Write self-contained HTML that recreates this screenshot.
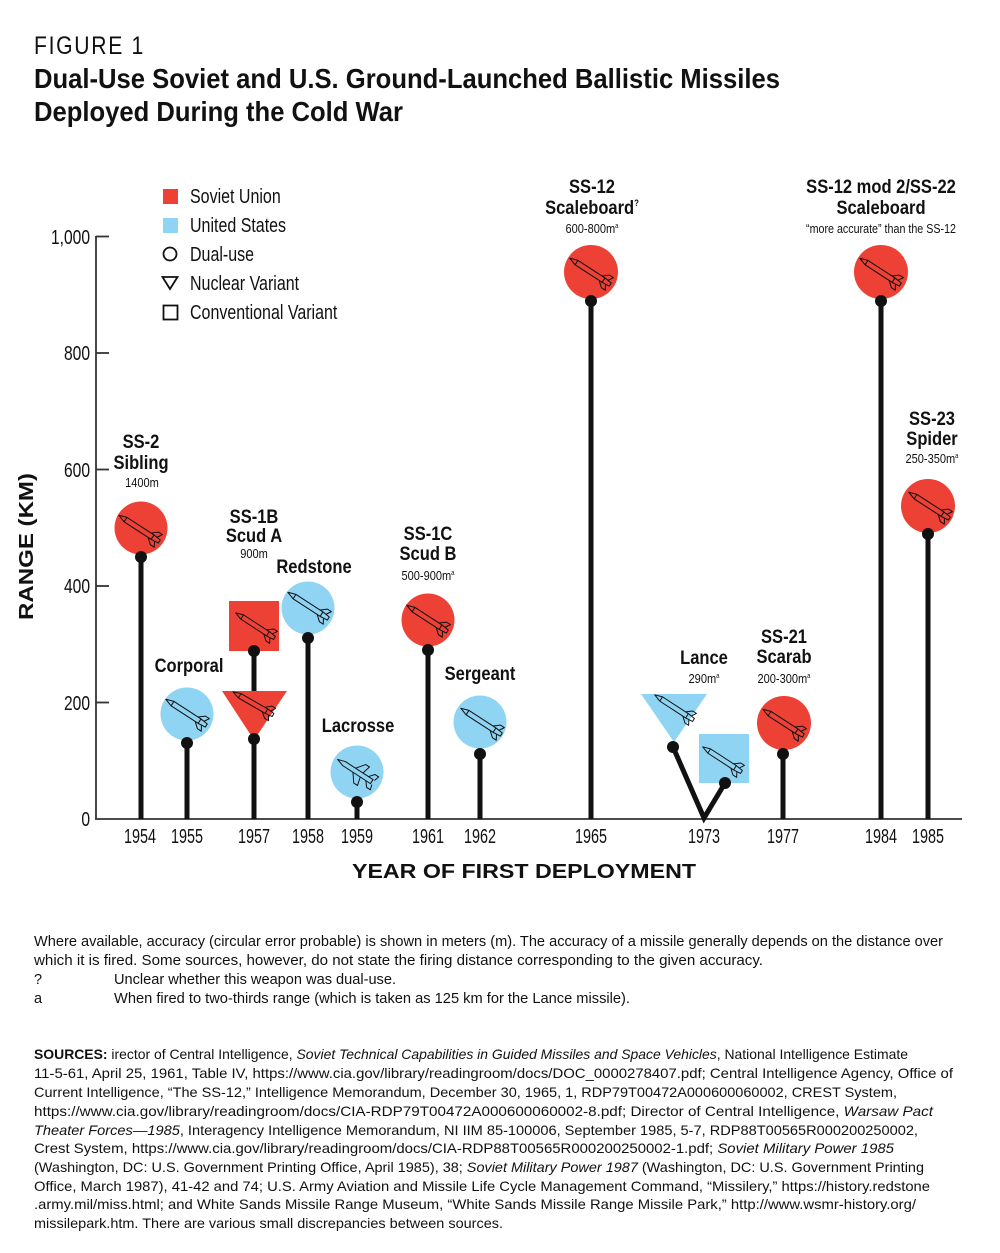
<!DOCTYPE html>
<html>
<head>
<meta charset="utf-8">
<style>
  html,body{margin:0;padding:0;background:#fff;}
  svg{display:block;}
  text{font-family:"Liberation Sans",sans-serif;fill:#111;}
</style>
</head>
<body>
<svg width="1000" height="1253" viewBox="0 0 1000 1253" xmlns="http://www.w3.org/2000/svg">
  <defs>
    <g id="rk" fill="none" stroke="#111" stroke-width="0.9" stroke-linejoin="round">
      <path d="M-22,0 L-15,-2.3 L13,-2.3 L13,2.3 L-15,2.3 Z"/>
      <path d="M-15,-2.3 L-15,2.3"/>
      <path d="M10,-2.3 L15,-6.5 L19,-6.5 L16.5,-2.3 M10,2.3 L15,6.5 L19,6.5 L16.5,2.3"/>
      <path d="M13,-2.3 L20,-1.6 L20,1.6 L13,2.3"/>
    </g>
    <g id="lc" fill="none" stroke="#111" stroke-width="0.9" stroke-linejoin="round">
      <path d="M-21,0 L-14,-2.2 L16,-2.2 L16,2.2 L-14,2.2 Z"/>
      <path d="M-3,-2.2 L3,-10 L7,-10 L5,-2.2 M-3,2.2 L3,10 L7,10 L5,2.2"/>
      <path d="M11,-2.2 L15,-7 L19,-7 L17.5,-2.2 M11,2.2 L15,7 L19,7 L17.5,2.2"/>
    </g>
  </defs>

  <!-- Title -->
  <text x="34" y="54" font-size="25" font-weight="300" textLength="111" lengthAdjust="spacingAndGlyphs" letter-spacing="2">FIGURE 1</text>
  <text x="34" y="88" font-size="28" font-weight="bold" textLength="746" lengthAdjust="spacingAndGlyphs">Dual-Use Soviet and U.S. Ground-Launched Ballistic Missiles</text>
  <text x="34" y="121" font-size="28" font-weight="bold" textLength="369" lengthAdjust="spacingAndGlyphs">Deployed During the Cold War</text>

  <!-- Legend -->
  <rect x="163" y="189" width="15" height="15" fill="#ee4136"/>
  <rect x="163" y="218" width="15" height="15" fill="#8fd4f2"/>
  <circle cx="170" cy="254" r="6.5" fill="none" stroke="#111" stroke-width="1.8"/>
  <polygon points="162.5,277 177.5,277 170,289" fill="none" stroke="#111" stroke-width="1.8" stroke-linejoin="miter"/>
  <rect x="163.5" y="305.5" width="14" height="14" fill="none" stroke="#111" stroke-width="1.8"/>
  <g font-size="20">
    <text transform="translate(190,203) scale(0.8,1)">Soviet Union</text>
    <text transform="translate(190,232) scale(0.8,1)">United States</text>
    <text transform="translate(190,261) scale(0.8,1)">Dual-use</text>
    <text transform="translate(190,290) scale(0.8,1)">Nuclear Variant</text>
    <text transform="translate(190,319) scale(0.8,1)">Conventional Variant</text>
  </g>

  <!-- Axes -->
  <g stroke="#333" stroke-width="1.8" fill="none">
    <line x1="96" y1="236" x2="96" y2="819"/>
    <line x1="95" y1="819" x2="962" y2="819"/>
    <line x1="96" y1="236.5" x2="109" y2="236.5"/>
    <line x1="96" y1="353" x2="109" y2="353"/>
    <line x1="96" y1="469.5" x2="109" y2="469.5"/>
    <line x1="96" y1="586" x2="109" y2="586"/>
    <line x1="96" y1="702.5" x2="109" y2="702.5"/>
  </g>
  <g font-size="20" text-anchor="end">
    <text transform="translate(90,244) scale(0.78,1)">1,000</text>
    <text transform="translate(90,360) scale(0.78,1)">800</text>
    <text transform="translate(90,477) scale(0.78,1)">600</text>
    <text transform="translate(90,593) scale(0.78,1)">400</text>
    <text transform="translate(90,710) scale(0.78,1)">200</text>
    <text transform="translate(90,826) scale(0.78,1)">0</text>
  </g>
  <g font-size="20" text-anchor="middle">
    <text transform="translate(140,843) scale(0.72,1)">1954</text>
    <text transform="translate(187,843) scale(0.72,1)">1955</text>
    <text transform="translate(254,843) scale(0.72,1)">1957</text>
    <text transform="translate(308,843) scale(0.72,1)">1958</text>
    <text transform="translate(357,843) scale(0.72,1)">1959</text>
    <text transform="translate(428,843) scale(0.72,1)">1961</text>
    <text transform="translate(480,843) scale(0.72,1)">1962</text>
    <text transform="translate(591,843) scale(0.72,1)">1965</text>
    <text transform="translate(704,843) scale(0.72,1)">1973</text>
    <text transform="translate(783,843) scale(0.72,1)">1977</text>
    <text transform="translate(881,843) scale(0.72,1)">1984</text>
    <text transform="translate(928,843) scale(0.72,1)">1985</text>
  </g>
  <text x="352" y="878" font-size="20" font-weight="bold" textLength="344" lengthAdjust="spacingAndGlyphs">YEAR OF FIRST DEPLOYMENT</text>
  <text transform="translate(33,620) rotate(-90)" font-size="20" font-weight="bold" textLength="147" lengthAdjust="spacingAndGlyphs">RANGE (KM)</text>

  <!-- Shapes -->
  <g>
    <circle cx="141" cy="528" r="26.5" fill="#ee4136"/>
    <circle cx="187" cy="714" r="26.5" fill="#8fd4f2"/>
    <rect x="229" y="601" width="50" height="50" fill="#ee4136"/>
    <polygon points="222,691 287,691 254,740" fill="#ee4136"/>
    <circle cx="308" cy="608" r="26.5" fill="#8fd4f2"/>
    <circle cx="357" cy="772" r="26.5" fill="#8fd4f2"/>
    <circle cx="428" cy="620" r="26.5" fill="#ee4136"/>
    <circle cx="480" cy="722" r="26.5" fill="#8fd4f2"/>
    <circle cx="591" cy="272" r="27" fill="#ee4136"/>
    <polygon points="641,694 707,694 674,742" fill="#8fd4f2"/>
    <rect x="699" y="734" width="50" height="49" fill="#8fd4f2"/>
    <circle cx="784" cy="723" r="27" fill="#ee4136"/>
    <circle cx="881" cy="272" r="27" fill="#ee4136"/>
    <circle cx="928" cy="506" r="27" fill="#ee4136"/>
  </g>

  <!-- Rockets -->
  <use href="#rk" transform="translate(140,529) rotate(33) scale(1.15)"/>
  <use href="#rk" transform="translate(187,713) rotate(33) scale(1.15)"/>
  <use href="#rk" transform="translate(256,626) rotate(33) scale(1.1)"/>
  <use href="#rk" transform="translate(254,704) rotate(30) scale(1.1)"/>
  <use href="#rk" transform="translate(309,606) rotate(33) scale(1.15)"/>
  <use href="#lc" transform="translate(357,772) rotate(33) scale(1.1)"/>
  <use href="#rk" transform="translate(428,619) rotate(33) scale(1.15)"/>
  <use href="#rk" transform="translate(482,722) rotate(33) scale(1.15)"/>
  <use href="#rk" transform="translate(591,272) rotate(33) scale(1.15)"/>
  <use href="#rk" transform="translate(675,708) rotate(33) scale(1.1)"/>
  <use href="#rk" transform="translate(723,760) rotate(33) scale(1.1)"/>
  <use href="#rk" transform="translate(784,723) rotate(33) scale(1.15)"/>
  <use href="#rk" transform="translate(881,272) rotate(33) scale(1.15)"/>
  <use href="#rk" transform="translate(930,506) rotate(33) scale(1.15)"/>

  <!-- Stems -->
  <g stroke="#111" stroke-width="5" fill="none">
    <line x1="141" y1="557" x2="141" y2="819"/>
    <line x1="187" y1="743" x2="187" y2="819"/>
    <line x1="254" y1="651" x2="254" y2="691"/>
    <line x1="254" y1="739" x2="254" y2="819"/>
    <line x1="308" y1="638" x2="308" y2="819"/>
    <line x1="357" y1="802" x2="357" y2="819"/>
    <line x1="428" y1="650" x2="428" y2="819"/>
    <line x1="480" y1="754" x2="480" y2="819"/>
    <line x1="591" y1="301" x2="591" y2="819"/>
    <polyline points="673,747 704,818 725,783" stroke-linejoin="miter"/>
    <line x1="783" y1="754" x2="783" y2="819"/>
    <line x1="881" y1="301" x2="881" y2="819"/>
    <line x1="928" y1="534" x2="928" y2="819"/>
  </g>
  <g fill="#111">
    <circle cx="141" cy="557" r="6"/>
    <circle cx="187" cy="743" r="6"/>
    <circle cx="254" cy="651" r="6"/>
    <circle cx="254" cy="739" r="6"/>
    <circle cx="308" cy="638" r="6"/>
    <circle cx="357" cy="802" r="6"/>
    <circle cx="428" cy="650" r="6"/>
    <circle cx="480" cy="754" r="6"/>
    <circle cx="591" cy="301" r="6"/>
    <circle cx="673" cy="747" r="6"/>
    <circle cx="725" cy="783" r="6"/>
    <circle cx="783" cy="754" r="6"/>
    <circle cx="881" cy="301" r="6"/>
    <circle cx="928" cy="534" r="6"/>
  </g>

  <!-- Labels -->
  <g font-size="19" font-weight="bold" text-anchor="middle">
    <text transform="translate(141,448) scale(0.87,1)">SS-2</text>
    <text transform="translate(141,469) scale(0.87,1)">Sibling</text>
    <text transform="translate(189,672) scale(0.87,1)">Corporal</text>
    <text transform="translate(254,523) scale(0.87,1)">SS-1B</text>
    <text transform="translate(254,542) scale(0.87,1)">Scud A</text>
    <text transform="translate(314,573) scale(0.87,1)">Redstone</text>
    <text transform="translate(358,732) scale(0.87,1)">Lacrosse</text>
    <text transform="translate(428,540) scale(0.87,1)">SS-1C</text>
    <text transform="translate(428,560) scale(0.87,1)">Scud B</text>
    <text transform="translate(480,680) scale(0.87,1)">Sergeant</text>
    <text transform="translate(592,193) scale(0.87,1)">SS-12</text>
    <text transform="translate(592,214) scale(0.87,1)">Scaleboard<tspan font-size="9" dy="-8">?</tspan></text>
    <text transform="translate(881,193) scale(0.87,1)">SS-12 mod 2/SS-22</text>
    <text transform="translate(881,214) scale(0.87,1)">Scaleboard</text>
    <text transform="translate(932,425) scale(0.87,1)">SS-23</text>
    <text transform="translate(932,445) scale(0.87,1)">Spider</text>
    <text transform="translate(704,664) scale(0.87,1)">Lance</text>
    <text transform="translate(784,643) scale(0.87,1)">SS-21</text>
    <text transform="translate(784,663) scale(0.87,1)">Scarab</text>
  </g>
  <g font-size="13" text-anchor="middle">
    <text transform="translate(142,487) scale(0.85,1)">1400m</text>
    <text transform="translate(254,558) scale(0.85,1)">900m</text>
    <text transform="translate(428,580) scale(0.85,1)">500-900m<tspan font-size="7" dy="-5">a</tspan></text>
    <text transform="translate(592,233) scale(0.85,1)">600-800m<tspan font-size="7" dy="-5">a</tspan></text>
    <text x="806" y="233" text-anchor="start" textLength="150" lengthAdjust="spacingAndGlyphs">“more accurate” than the SS-12</text>
    <text transform="translate(932,463) scale(0.85,1)">250-350m<tspan font-size="7" dy="-5">a</tspan></text>
    <text transform="translate(704,683) scale(0.85,1)">290m<tspan font-size="7" dy="-5">a</tspan></text>
    <text transform="translate(784,683) scale(0.85,1)">200-300m<tspan font-size="7" dy="-5">a</tspan></text>
  </g>

  <!-- Footnotes -->
  <g font-size="14.5" fill="#1a1a1a">
    <text x="34" y="946" textLength="909" lengthAdjust="spacingAndGlyphs">Where available, accuracy (circular error probable) is shown in meters (m). The accuracy of a missile generally depends on the distance over</text>
    <text x="34" y="965" textLength="729" lengthAdjust="spacingAndGlyphs">which it is fired. Some sources, however, do not state the firing distance corresponding to the given accuracy.</text>
    <text x="34" y="984">?</text>
    <text x="114" y="984" textLength="282" lengthAdjust="spacingAndGlyphs">Unclear whether this weapon was dual-use.</text>
    <text x="34" y="1003">a</text>
    <text x="114" y="1003" textLength="516" lengthAdjust="spacingAndGlyphs">When fired to two-thirds range (which is taken as 125 km for the Lance missile).</text>
  </g>

  <!-- Sources -->
  <g font-size="14" fill="#1a1a1a">
    <text x="34" y="1059" textLength="874" lengthAdjust="spacingAndGlyphs"><tspan font-weight="bold">SOURCES:</tspan> irector of Central Intelligence, <tspan font-style="italic">Soviet Technical Capabilities in Guided Missiles and Space Vehicles</tspan>, National Intelligence Estimate</text>
    <text x="34" y="1078" textLength="919" lengthAdjust="spacingAndGlyphs">11-5-61, April 25, 1961, Table IV, https://www.cia.gov/library/readingroom/docs/DOC_0000278407.pdf; Central Intelligence Agency, Office of</text>
    <text x="34" y="1097" textLength="863" lengthAdjust="spacingAndGlyphs">Current Intelligence, “The SS-12,” Intelligence Memorandum, December 30, 1965, 1, RDP79T00472A000600060002, CREST System,</text>
    <text x="34" y="1116" textLength="899" lengthAdjust="spacingAndGlyphs">https://www.cia.gov/library/readingroom/docs/CIA-RDP79T00472A000600060002-8.pdf; Director of Central Intelligence, <tspan font-style="italic">Warsaw Pact</tspan></text>
    <text x="34" y="1135" textLength="884" lengthAdjust="spacingAndGlyphs"><tspan font-style="italic">Theater Forces—1985</tspan>, Interagency Intelligence Memorandum, NI IIM 85-100006, September 1985, 5-7, RDP88T00565R000200250002,</text>
    <text x="34" y="1153" textLength="860" lengthAdjust="spacingAndGlyphs">Crest System, https://www.cia.gov/library/readingroom/docs/CIA-RDP88T00565R000200250002-1.pdf; <tspan font-style="italic">Soviet Military Power 1985</tspan></text>
    <text x="34" y="1172" textLength="890" lengthAdjust="spacingAndGlyphs">(Washington, DC: U.S. Government Printing Office, April 1985), 38; <tspan font-style="italic">Soviet Military Power 1987</tspan> (Washington, DC: U.S. Government Printing</text>
    <text x="34" y="1191" textLength="896" lengthAdjust="spacingAndGlyphs">Office, March 1987), 41-42 and 74; U.S. Army Aviation and Missile Life Cycle Management Command, “Missilery,” https://history.redstone</text>
    <text x="34" y="1209" textLength="882" lengthAdjust="spacingAndGlyphs">.army.mil/miss.html; and White Sands Missile Range Museum, “White Sands Missile Range Missile Park,” http://www.wsmr-history.org/</text>
    <text x="34" y="1228" textLength="469" lengthAdjust="spacingAndGlyphs">missilepark.htm. There are various small discrepancies between sources.</text>
  </g>
</svg>
</body>
</html>
